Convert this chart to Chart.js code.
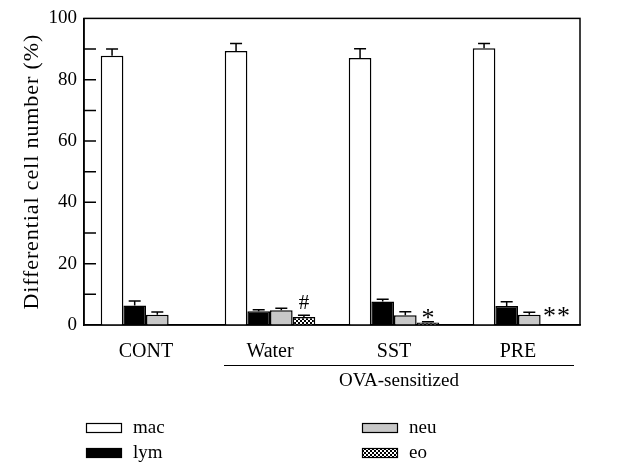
<!DOCTYPE html>
<html>
<head>
<meta charset="utf-8">
<script src="https://cdn.jsdelivr.net/npm/chart.js@4/dist/chart.umd.min.js"></script>
<style>
  html, body { margin: 0; padding: 0; background: #fff; }
  #wrap { width: 618px; height: 465px; }
</style>
</head>
<body>
<div id="wrap"><canvas id="chart" width="618" height="465"></canvas></div>
<script>
// groups and values (%)
var groups = ['CONT', 'Water', 'SST', 'PRE'];
var mac = [87.8, 89.4, 87.1, 90.3];
var macErr = [2.2, 2.4, 3.0, 1.5];
var lym = [6.4, 4.5, 7.7, 6.2];
var lymErr = [1.4, 0.5, 0.7, 1.4];
var neu = [3.35, 4.8, 3.2, 3.35];
var neuErr = [0.9, 0.7, 1.1, 0.8];
var eo = [0, 2.6, 0.8, 0];
var eoErr = [0, 0.6, 0.3, 0];
var eoMarks = ['', '#', '*', '**'];
var yTicks = [0, 20, 40, 60, 80, 100];
var yTitle = 'Differential cell number (%)';

var FONT = '"Liberation Serif", "Times New Roman", serif';

// checkered fill for eo
function checkerPattern() {
  var c = document.createElement('canvas');
  c.width = 4; c.height = 4;
  var g = c.getContext('2d');
  g.fillStyle = '#fff';
  g.fillRect(0, 0, 4, 4);
  g.fillStyle = '#000';
  g.fillRect(0, 0, 2, 2);
  g.fillRect(2, 2, 2, 2);
  return g.createPattern(c, 'repeat');
}
var eoFill = checkerPattern();

function ds(label, data, err, color) {
  return {
    label: label,
    data: data,
    err: err,
    backgroundColor: color,
    borderColor: '#000',
    borderWidth: 1.5,
    barPercentage: 1,
    categoryPercentage: 0.73
  };
}

// upper error bars, frame, inward ticks, annotations, legend
var extras = {
  id: 'extras',
  afterDatasetsDraw: function (chart) {
    var ctx = chart.ctx;
    var y = chart.scales.y;
    var x = chart.scales.x;
    var area = chart.chartArea;
    ctx.save();
    ctx.strokeStyle = '#000';
    ctx.lineWidth = 1.5;

    // error bars
    chart.data.datasets.forEach(function (d, di) {
      var meta = chart.getDatasetMeta(di);
      meta.data.forEach(function (bar, i) {
        if (!d.err[i]) return;
        var top = y.getPixelForValue(d.data[i] + d.err[i]);
        var base = y.getPixelForValue(d.data[i]);
        ctx.beginPath();
        ctx.moveTo(bar.x, base);
        ctx.lineTo(bar.x, top);
        ctx.moveTo(bar.x - 6, top);
        ctx.lineTo(bar.x + 6, top);
        ctx.stroke();
      });
    });

    // frame
    ctx.strokeRect(area.left, area.top, area.right - area.left, area.bottom - area.top);

    // inward ticks every 10
    ctx.beginPath();
    for (var v = 10; v < 100; v += 10) {
      var py = y.getPixelForValue(v);
      ctx.moveTo(area.left, py);
      ctx.lineTo(area.left + 12, py);
    }
    ctx.stroke();

    // significance marks above eo bars
    var eoMeta = chart.getDatasetMeta(3);
    ctx.fillStyle = '#000';
    ctx.textAlign = 'center';
    eoMeta.data.forEach(function (bar, i) {
      var m = eoMarks[i];
      if (!m) return;
      var top = y.getPixelForValue(eo[i] + eoErr[i]);
      if (m === '#') {
        ctx.font = '21px ' + FONT;
        ctx.textBaseline = 'bottom';
        ctx.fillText(m, bar.x, top - 1);
      } else if (m === '*') {
        ctx.font = '26px ' + FONT;
        ctx.textBaseline = 'middle';
        ctx.fillText(m, bar.x, top - 2);
      } else {
        ctx.font = '26px ' + FONT;
        ctx.textBaseline = 'middle';
        ctx.letterSpacing = '1px';
        ctx.fillText(m, bar.x + 5, top - 8);
        ctx.letterSpacing = '0px';
      }
    });

    // OVA-sensitized bracket
    var lx = x.getPixelForValue(1) - 46;
    var rx = x.getPixelForValue(3) + 56;
    ctx.lineWidth = 1.2;
    ctx.beginPath();
    ctx.moveTo(lx, 365.5);
    ctx.lineTo(rx, 365.5);
    ctx.stroke();
    ctx.font = '19px ' + FONT;
    ctx.textBaseline = 'middle';
    ctx.fillText('OVA-sensitized', (lx + rx) / 2, 381);

    // y axis title
    ctx.save();
    ctx.translate(32, (area.top + area.bottom) / 2);
    ctx.rotate(-Math.PI / 2);
    ctx.font = '22px ' + FONT;
    ctx.letterSpacing = '0.9px';
    ctx.fillText(yTitle, 0, 0);
    ctx.restore();

    // legend in two columns
    var cols = [86, 362], rows = [428, 453];
    chart.data.datasets.forEach(function (d, di) {
      var cx = cols[Math.floor(di / 2)];
      var cy = rows[di % 2];
      ctx.fillStyle = d.backgroundColor;
      ctx.fillRect(cx, cy - 5, 36, 10);
      ctx.lineWidth = 1.2;
      ctx.strokeRect(cx + 0.5, cy - 4.5, 35, 9);
      ctx.fillStyle = '#000';
      ctx.textAlign = 'left';
      ctx.font = '19px ' + FONT;
      ctx.fillText(d.label, cx + 47, cy);
    });
    ctx.restore();
  }
};

new Chart(document.getElementById('chart'), {
  type: 'bar',
  data: {
    labels: groups,
    datasets: [
      ds('mac', mac, macErr, '#ffffff'),
      ds('lym', lym, lymErr, '#000000'),
      ds('neu', neu, neuErr, '#c8c8c8'),
      ds('eo', eo, eoErr, eoFill)
    ]
  },
  options: {
    responsive: false,
    animation: false,
    layout: { padding: { top: 17, right: 38, left: 0, bottom: 0 } },
    plugins: { legend: { display: false }, tooltip: { enabled: false } },
    scales: {
      x: {
        grid: { display: false },
        border: { display: true, color: '#000', width: 1.5 },
        ticks: { color: '#000', font: { family: FONT, size: 20 }, padding: 7 },
        afterFit: function (s) { s.height = 140; }
      },
      y: {
        min: 0,
        max: 100,
        afterBuildTicks: function (s) {
          s.ticks = yTicks.map(function (v) { return { value: v }; });
        },
        grid: { display: false, drawTicks: false },
        border: { display: true, color: '#000', width: 1.5 },
        ticks: { color: '#000', font: { family: FONT, size: 19 }, padding: 7 },
        afterFit: function (s) { s.width = 84; }
      }
    }
  },
  plugins: [extras]
});
</script>
</body>
</html>
